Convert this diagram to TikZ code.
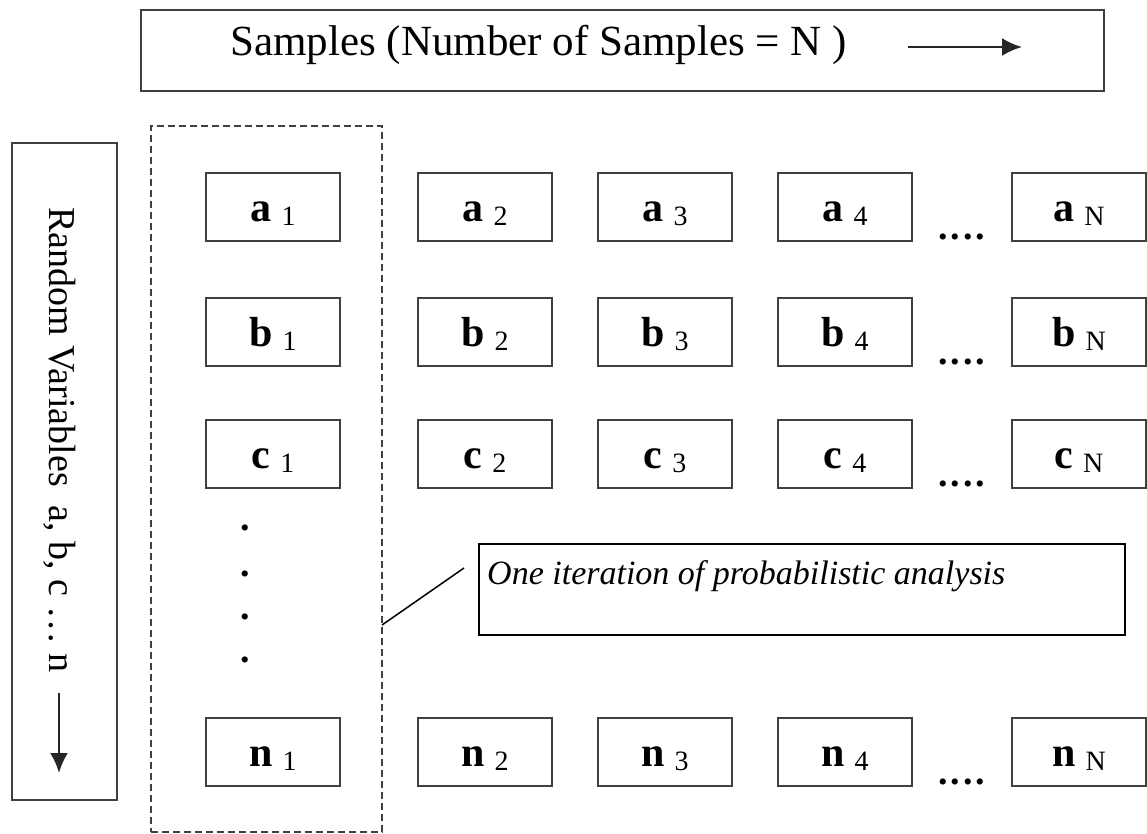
\documentclass[tikz,border=0pt]{standalone}
\usepackage{fontspec}
\setmainfont{Liberation Serif}
\usetikzlibrary{arrows.meta,positioning}
\definecolor{boxgray}{RGB}{64,64,64}

% sample value: bold variable, small index
\newcommand{\sval}[2]{{\bfseries\fontsize{42}{42}\selectfont #1}\hspace{10pt}\raisebox{-4pt}{\fontsize{28}{28}\selectfont #2}}

\begin{document}
\begin{tikzpicture}[x=1pt,y=-1pt,
  frame/.style={draw=boxgray,line width=2pt,inner sep=0pt},
  cell/.style={frame,minimum width=134pt,minimum height=68pt,text height=38pt,text depth=8pt},
  ttl/.style={font=\fontsize{38}{40}\selectfont,inner sep=0pt},
  more/.style={font=\bfseries\fontsize{38}{40}\selectfont,inner sep=0pt},
  arr/.style={-{Latex[length=20pt,width=18pt]},line width=2.5pt,black!85}
]
\useasboundingbox (0,0) rectangle (1147,834);

% headings
\node[frame,minimum width=963pt,minimum height=81pt] (samples) at (622.5,50.5) {};
\node[ttl,font=\fontsize{43}{45}\selectfont,anchor=base west] (samplestxt) at (230,56) {Samples (Number of Samples = N )};
\coordinate (sa) at (908,47);
\coordinate (sb) at (1022,47);
\draw[arr] (sa) -- (sb);

\node[frame,minimum width=105pt,minimum height=657pt] (rv) at (64.5,471.5) {};
\node[ttl,rotate=-90,anchor=base west] (rvtxt) at (49,207) {Random Variables\ \ a, b, c … n};
\coordinate (ra) at (59,693);
\coordinate (rb) at (59,773);
\draw[arr] (ra) -- (rb);

% one iteration
\node[draw=boxgray,line width=2pt,dash pattern=on 7pt off 4pt,minimum width=231pt,minimum height=706pt] (iter) at (266.5,479) {};

% samples
\node[cell] (a1) at (273,207) {\sval{a}{1}};
\node[cell] (a2) at (485,207) {\sval{a}{2}};
\node[cell] (a3) at (665,207) {\sval{a}{3}};
\node[cell] (a4) at (845,207) {\sval{a}{4}};
\node[cell] (aN) at (1079,207) {\sval{a}{N}};

\node[cell] (b1) at (273,331.5) {\sval{b}{1}};
\node[cell] (b2) at (485,331.5) {\sval{b}{2}};
\node[cell] (b3) at (665,331.5) {\sval{b}{3}};
\node[cell] (b4) at (845,331.5) {\sval{b}{4}};
\node[cell] (bN) at (1079,331.5) {\sval{b}{N}};

\node[cell] (c1) at (273,453.5) {\sval{c}{1}};
\node[cell] (c2) at (485,453.5) {\sval{c}{2}};
\node[cell] (c3) at (665,453.5) {\sval{c}{3}};
\node[cell] (c4) at (845,453.5) {\sval{c}{4}};
\node[cell] (cN) at (1079,453.5) {\sval{c}{N}};

\node[cell] (n1) at (273,751.5) {\sval{n}{1}};
\node[cell] (n2) at (485,751.5) {\sval{n}{2}};
\node[cell] (n3) at (665,751.5) {\sval{n}{3}};
\node[cell] (n4) at (845,751.5) {\sval{n}{4}};
\node[cell] (nN) at (1079,751.5) {\sval{n}{N}};

\node[more,anchor=base] (adots) at (962,240) {.\kern3pt.\kern3pt.\kern3pt.};
\node[more,anchor=base] (bdots) at (962,364) {.\kern3pt.\kern3pt.\kern3pt.};
\node[more,anchor=base] (cdots) at (962,486) {.\kern3pt.\kern3pt.\kern3pt.};
\node[more,anchor=base] (ndots) at (962,784) {.\kern3pt.\kern3pt.\kern3pt.};

\node[more] (vd1) at (245,528) {.};
\node[more] (vd2) at (245,574) {.};
\node[more] (vd3) at (245,617) {.};
\node[more] (vd4) at (245,660) {.};

% callout
\node[draw=black,line width=1.5pt,minimum width=646pt,minimum height=91pt] (note) at (802,589.5) {};
\node[anchor=base west,inner sep=0pt,font=\itshape\fontsize{34}{36}\selectfont] (notetxt) at (487,584) {One iteration of probabilistic analysis};
\coordinate (la) at (382,625);
\coordinate (lb) at (464,568);
\draw[line width=1.5pt] (la) -- (lb);
\end{tikzpicture}
\end{document}
